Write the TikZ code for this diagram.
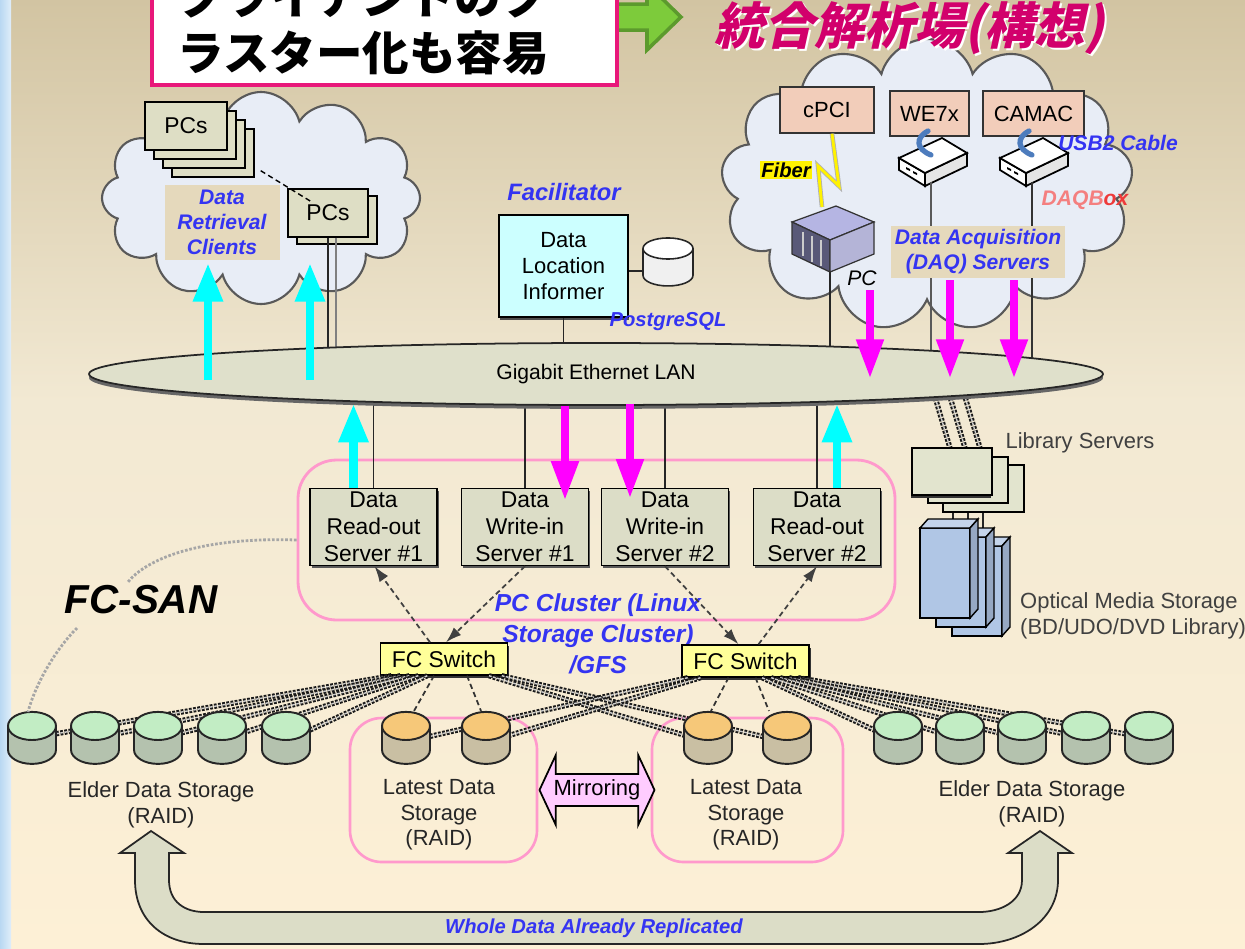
\documentclass[tikz,border=0pt]{standalone}
\usepackage{fontspec}
\setmainfont{Liberation Sans}
\newfontfamily\jpfont{Noto Sans CJK JP}
\usetikzlibrary{shapes.geometric, shapes.symbols, shapes.arrows, arrows.meta, shadows, calc}

\definecolor{bgtop}{HTML}{D2C4A2}
\definecolor{bgmid}{HTML}{F2E9D3}
\definecolor{bgbot}{HTML}{FDF0D6}
\definecolor{winblue}{HTML}{B9D8F2}
\definecolor{cloudfill}{HTML}{E8EDF6}
\definecolor{boxfill}{HTML}{DCDDC7}
\definecolor{lanfill}{HTML}{DFE0CB}
\definecolor{pcfill}{HTML}{DEDEC5}
\definecolor{tanbox}{HTML}{E5D9BC}
\definecolor{infofill}{HTML}{CCFFFF}
\definecolor{modfill}{HTML}{F2CDBA}
\definecolor{swfill}{HTML}{FFFF99}
\definecolor{optfill}{HTML}{B0C6E5}
\definecolor{libfill}{HTML}{E2E4CE}
\definecolor{lblblue}{HTML}{3434F2}
\definecolor{clpink}{HTML}{FF99CC}
\definecolor{boxpink}{HTML}{E8187A}
\definecolor{titlemag}{HTML}{D2006C}
\definecolor{goarrow}{HTML}{7DCB3B}
\definecolor{goedge}{HTML}{5C9A2D}
\definecolor{mirpink}{HTML}{FFCCFF}
\definecolor{elderend}{HTML}{C2EDC4}
\definecolor{elderbody}{HTML}{B4C2AE}
\definecolor{latestend}{HTML}{F6C879}
\definecolor{latestbody}{HTML}{C9BFA3}
\definecolor{daqred}{HTML}{EE3A3A}
\definecolor{cablblue}{HTML}{4D7CBD}
\definecolor{flowcyan}{RGB}{0,255,255}
\definecolor{flowmag}{RGB}{255,0,255}

% one pixel of the layout grid
\newdimen\pxu \pxu=0.02cm

\begin{document}
\begin{tikzpicture}[x=0.02cm, y=-0.02cm, font=\fontsize{12.5}{15}\selectfont,
    srv/.style={draw, fill=boxfill, line width=0.8pt, minimum width=127\pxu, minimum height=77\pxu,
      inner sep=0pt, align=center, font=\fontsize{13}{15.3}\selectfont,
      drop shadow={shadow xshift=1pt, shadow yshift=-1.6pt, opacity=1, fill=black!65}},
    sw/.style={draw, fill=swfill, line width=0.8pt, minimum width=127\pxu, minimum height=32\pxu,
      inner sep=0pt, font=\fontsize{13}{15}\selectfont,
      drop shadow={shadow xshift=1pt, shadow yshift=-1.6pt, opacity=1, fill=black!80}},
    mod/.style={draw=black!80, fill=modfill, line width=0.8pt, minimum height=46\pxu, inner sep=0pt},
    pcbox/.style={draw, fill=pcfill, line width=0.8pt, minimum width=82\pxu, minimum height=48\pxu,
      inner sep=0pt, font=\fontsize{13}{15}\selectfont},
    lbl/.style={text=lblblue, font=\bfseries\itshape\fontsize{12}{14.2}\selectfont, align=center, inner sep=1pt},
    gtxt/.style={text=black!85, align=center, font=\fontsize{12.5}{14.5}\selectfont},
    disk/.style={cylinder, shape border rotate=90, aspect=2.4, draw=black!85, line width=1.1pt,
      minimum width=48\pxu, minimum height=52\pxu,
      cylinder uses custom fill, cylinder body fill=#1body, cylinder end fill=#1end},
    lnk/.style={draw=black!85, line width=0.9pt},
    uparr/.style={draw=flowcyan, line width=5pt, -{Triangle[width=16pt,length=22pt]}},
    dnarr/.style={draw=flowmag, line width=4pt, -{Triangle[width=15pt,length=22pt]}},
    sanarr/.style={densely dashed, draw=black!75, line width=1pt, -{Latex[length=9pt,width=6pt]}},
    fcl/.style={draw=black!90, dash pattern=on 1.6pt off 0.8pt, line width=1.1pt, double=white!60!gray, double distance=0.8pt},
    fcthin/.style={draw=black!80, densely dashed, line width=1pt},
    cloudy/.style={cloud, cloud ignores aspect, draw=black!65, line width=1.2pt, fill=cloudfill, inner sep=0pt}]

  \useasboundingbox (0,0) rectangle (1245,948);
  \clip (0,0) rectangle (1245,948);

  % backdrop
  \shade[top color=bgtop, bottom color=bgmid] (0,0) rectangle (1245,402);
  \shade[top color=bgmid, bottom color=bgbot] (0,400) rectangle (1245,948);
  \shade[left color=winblue, right color=winblue!45!white] (0,0) rectangle (11,948);
  \coordinate (lanc) at (596,374);

  % clouds
  \node[cloudy, cloud puffs=12, minimum width=318\pxu, minimum height=212\pxu] (cldL) at (261,198) {};
  \node[cloudy, cloud puffs=13, minimum width=412\pxu, minimum height=292\pxu] (cldR) at (927,185) {};

  % heading
  \filldraw[fill=goarrow, draw=goedge, line width=2pt]
    (590,4) -- (647,4) -- (647,-16) -- (681,17) -- (647,50) -- (647,30) -- (590,30) -- cycle;
  \node[draw=boxpink, line width=2.4pt, fill=white, minimum width=465\pxu, minimum height=96\pxu] (note) at (384.5,37) {};
  \node[anchor=west, align=left, inner sep=0pt, font=\jpfont\bfseries\fontsize{26.5}{32}\selectfont]
    (notetxt) at (177,25) {クライアントのク\\ラスター化も容易};
  \node[xslant=0.22, inner sep=0pt, text=white, font=\jpfont\bfseries\fontsize{28.5}{32}\selectfont] (titlebg) at (915,30) {統合解析場(構想)};
  \node[xslant=0.22, inner sep=0pt, text=titlemag, font=\jpfont\bfseries\fontsize{28.5}{32}\selectfont] (title) at (913,28) {統合解析場(構想)};

  % retrieval clients
  \foreach \d in {27,18,9}
    \draw[fill=pcfill, line width=0.8pt] (145+\d,102+\d) rectangle ++(82,48);
  \node[pcbox] (pcsA) at (186,126) {PCs};
  \draw[fill=pcfill, line width=0.8pt] (297,196) rectangle ++(80,48);
  \node[pcbox, minimum width=80\pxu] (pcsB) at (328,213) {PCs};
  \draw[densely dashed, line width=0.8pt] ([shift={(33,20)}]pcsA.south east) -- ([shift={(25,14)}]pcsB.north west);
  \path ([xshift=8\pxu]pcsB.south) coordinate (pcsB2);
  \draw[lnk] (pcsB.south) -- (pcsB.south |- lanc);
  \draw[draw=gray, line width=1.2pt] (pcsB2) -- (pcsB2 |- lanc);
  \node[lbl, fill=tanbox, minimum width=115\pxu, minimum height=75\pxu] (drc) at (222,222) {Data\\Retrieval\\Clients};

  % facilitator
  \node[lbl, font=\bfseries\itshape\fontsize{13.5}{15}\selectfont] (facl) at (564,192) {Facilitator};
  \node[draw, fill=infofill, line width=0.8pt, minimum width=129\pxu, minimum height=102\pxu, align=center,
    font=\fontsize{12.5}{14.7}\selectfont,
    drop shadow={shadow xshift=0.5pt, shadow yshift=-1.6pt, opacity=1, fill=black!70}] (dli) at (563.5,266) {Data\\Location\\Informer};
  \node[cylinder, shape border rotate=90, aspect=1.8, draw=black!85, line width=0.9pt, minimum width=50\pxu,
    minimum height=48\pxu, cylinder uses custom fill, cylinder body fill=gray!12, cylinder end fill=white] (pg) at (668,271) {};
  \draw[lnk] (pg.west -| dli.east) -- (pg.west);
  \draw[lnk] (dli.south) -- (dli.south |- lanc);
  \node[lbl, font=\bfseries\itshape\fontsize{11.5}{13}\selectfont] (pglbl) at (668,322) {PostgreSQL};

  % acquisition side
  \node[mod, minimum width=94\pxu] (cpci) at (827,110) {cPCI};
  \node[mod, minimum width=79\pxu, minimum height=45\pxu] (we7x) at (929.5,113.5) {WE7x};
  \node[mod, minimum width=101\pxu, minimum height=45\pxu] (camac) at (1033.5,113.5) {CAMAC};
  \foreach \dx/\nm in {0/daqA, 101/daqB} {
    \begin{scope}[shift={(\dx,0)}]
      \draw[fill=white, line width=1pt] (899,158) -- (925,173) -- (925,186) -- (899,170) -- cycle;
      \draw[fill=white!90!black, line width=1pt] (925,173) -- (967,153) -- (967,166) -- (925,186) -- cycle;
      \draw[fill=white, line width=1pt] (899,158) -- (942,138) -- (967,153) -- (925,173) -- cycle;
      \fill (906,167) -- (910,169) -- (910,171) -- (906,169) -- cycle;
      \fill (913,171) -- (917,173) -- (917,175) -- (913,173) -- cycle;
      \draw[cablblue, line width=3pt, line cap=round] (931,155) .. controls (916,149) and (915,138) .. (928,131);
      \coordinate (\nm) at (931,182);
    \end{scope}
  }
  % rack PC
  \filldraw[fill=gray!55!blue!40!white, draw=black!80, line width=0.7pt] (792,222) -- (836,206) -- (874,222) -- (830,240) -- cycle;
  \filldraw[fill=black!60!blue!30!gray, draw=black!80, line width=0.7pt] (792,222) -- (830,240) -- (830,272) -- (792,254) -- cycle;
  \filldraw[fill=gray!70!blue!45!white, draw=black!80, line width=0.7pt] (830,240) -- (874,222) -- (874,254) -- (830,272) -- cycle;
  \draw[white!80!black, line width=0.8pt] (803,232) -- (803,256) (812,236) -- (812,262) (821,240) -- (821,266);
  \coordinate (pcsrv) at (830,272);
  \draw[draw=gray!60, double=yellow, double distance=1.6pt, line width=0.5pt, line join=miter]
    ([xshift=5\pxu]cpci.south) -- (839,186) -- (818,166) -- (822,207);
  \node[fill=yellow, inner sep=1pt, font=\bfseries\itshape\fontsize{11.5}{13}\selectfont] (fib) at (786,170) {Fiber};
  \draw[lnk] (pcsrv) -- (pcsrv |- lanc);
  \draw[draw=gray!70!black, line width=0.8pt] (daqA) -- (daqA |- lanc);
  \draw[draw=black!80, line width=0.8pt] (daqB) -- (daqB |- lanc);
  \node[font=\itshape\fontsize{12}{14}\selectfont] (pclbl) at (862,278) {PC};
  \node[lbl, fill=tanbox, inner sep=2pt] (daqlbl) at (978,252) {Data Acquisition\\(DAQ) Servers};
  \node[lbl] (usb) at (1118,143) {USB2 Cable};
  \node[font=\bfseries\itshape\fontsize{12}{14}\selectfont] (daqbox) at (1085,200) {\textcolor{daqred!65!white}{DAQB}\textcolor{daqred}{ox}};

  % storage servers
  \node[draw=clpink, line width=1.6pt, rounded corners=22pt, minimum width=597\pxu, minimum height=160\pxu] (cluster) at (596.5,540) {};
  \node[srv] (ro1) at (373.5,527) {Data\\Read-out\\Server \#1};
  \node[srv] (wi1) at (525,527) {Data\\Write-in\\Server \#1};
  \node[srv] (wi2) at (665,527) {Data\\Write-in\\Server \#2};
  \node[srv] (ro2) at (817,527) {Data\\Read-out\\Server \#2};
  \foreach \s in {ro1,wi1,wi2,ro2}
    \draw[lnk] (\s.north) -- (\s.north |- lanc);

  % library
  \foreach \dx in {0,15,30}
    \draw[fcl] (933+\dx,390) -- (950+\dx,448);
  \foreach \dx in {0,15,30}
    \draw[lnk] (953+\dx,495) -- (953+\dx,530);
  \draw[fill=libfill, line width=0.8pt] (943,465) rectangle (1024,512);
  \draw[fill=libfill, line width=0.8pt] (928,457) rectangle (1008,503);
  \node[draw, fill=libfill, line width=0.8pt, minimum width=80\pxu, minimum height=47\pxu,
    drop shadow={shadow xshift=-0.5pt, shadow yshift=-1.5pt, opacity=1, fill=black!80}] (lib) at (952,471.5) {};
  \foreach \i in {2,1,0} {
    \begin{scope}[shift={(16*\i,9*\i)}]
      \draw[fill=optfill, line width=0.8pt] (920,528) rectangle (970,618);
      \draw[fill=optfill!75!white, line width=0.8pt] (920,528) -- (928,519) -- (978,519) -- (970,528) -- cycle;
      \draw[fill=optfill!85!black, line width=0.8pt] (970,528) -- (978,519) -- (978,609) -- (970,618) -- cycle;
    \end{scope}
  }
  \node[gtxt, text=black!75] (liblbl) at (1080,443) {Library Servers};
  \node[gtxt, text=black!75, anchor=west, align=left] (optlbl) at (1014,616) {Optical Media Storage\\(BD/UDO/DVD Library)};

  % LAN
  \node[ellipse, draw=black!85, line width=1pt, fill=lanfill, minimum width=1014\pxu, minimum height=62\pxu,
    font=\fontsize{12}{14}\selectfont,
    drop shadow={shadow xshift=0pt, shadow yshift=-2.2pt, opacity=1, fill=black!60}] (lan) at (lanc) {Gigabit Ethernet LAN};

  % data flow
  \draw[uparr] (208,380) -- (208,263);
  \draw[uparr] (310,380) -- (310,263);
  \draw[dnarr] (870,290) -- (870,378);
  \draw[dnarr] (950,280) -- (950,378);
  \draw[dnarr] (1014,280) -- (1014,378);
  \draw[uparr] ([xshift=-20\pxu]ro1.north) -- ++(0,-84);
  \draw[uparr] ([xshift=20\pxu]ro2.north) -- ++(0,-84);
  \draw[dnarr] ($(wi1.north)+(40,-82)$) -- ($(wi1.north)+(40,12)$);
  \draw[dnarr] ($(wi2.north)+(-35,-84)$) -- ($(wi2.north)+(-35,10)$);

  \node[lbl, font=\bfseries\itshape\fontsize{14}{17.6}\selectfont] (cllbl) at (598,634) {PC Cluster (Linux\\Storage Cluster)\\/GFS};

  % SAN
  \node[sw] (swL) at (444,659) {FC Switch};
  \node[sw] (swR) at (745.5,661) {FC Switch};
  \draw[sanarr] ([xshift=-14\pxu]swL.north) -- ([xshift=1\pxu]ro1.south);
  \draw[sanarr] (wi1.south) -- ([xshift=2\pxu]swL.north);
  \draw[sanarr] (wi2.south) -- ([xshift=-7\pxu]swR.north);
  \draw[sanarr] ([xshift=13\pxu]swR.north) -- (ro2.south);

  \node[draw=clpink, line width=1.5pt, rounded corners=18pt, minimum width=187\pxu, minimum height=144\pxu] (latL) at (443.5,790) {};
  \node[draw=clpink, line width=1.5pt, rounded corners=18pt, minimum width=191\pxu, minimum height=144\pxu] (latR) at (747.5,790) {};

  % disk ports, links first so the disks sit on top
  \path (43,736) coordinate (eL1) (106,736) coordinate (eL2) (169,736) coordinate (eL3)
        (233,736) coordinate (eL4) (297,736) coordinate (eL5);
  \path (887,736) coordinate (eR1) (949,736) coordinate (eR2) (1011,736) coordinate (eR3)
        (1075,736) coordinate (eR4) (1138,736) coordinate (eR5);
  \foreach \n [count=\i] in {eL1,eL2,eL3,eL4,eL5}
    \draw[fcl] ($(swL.south west)!{0.02+0.07*\i}!(swL.south east)$) -- (\n);
  \foreach \n [count=\i] in {eR5,eR4,eR3,eR2,eR1}
    \draw[fcl] ($(swR.south east)!{0.02+0.07*\i}!(swR.south west)$) -- (\n);
  \draw[fcl] ($(swL.south west)!0.85!(swL.south east)$) -- (700,740);
  \draw[fcl] ($(swL.south west)!0.95!(swL.south east)$) -- (778,740);
  \draw[fcl] ($(swR.south east)!0.85!(swR.south west)$) -- (494,740);
  \draw[fcl] ($(swR.south east)!0.95!(swR.south west)$) -- (414,740);

  \foreach \n/\x in {dL1/32, dL2/95, dL3/158, dL4/222, dL5/286, dR1/898, dR2/960, dR3/1022, dR4/1086, dR5/1149}
    \node[disk=elder] (\n) at (\x,750) {};
  \foreach \n/\x in {lL1/406, lL2/486, lR1/708, lR2/787}
    \node[disk=latest] (\n) at (\x,750) {};

  \draw[fcthin] ([xshift=-10\pxu]swL.south) -- ([xshift=8\pxu]lL1.north);
  \draw[fcthin] ([xshift=23\pxu]swL.south) -- ([xshift=-5\pxu]lL2.north);
  \draw[fcthin] ([xshift=-17\pxu]swR.south) -- ([xshift=3\pxu]lR1.north);
  \draw[fcthin] ([xshift=10\pxu]swR.south) -- ([xshift=-18\pxu]lR2.north);

  \node[gtxt] (eLlbl) at (161,805) {Elder Data Storage\\(RAID)};
  \node[gtxt] (eRlbl) at (1032,804) {Elder Data Storage\\(RAID)};
  \node[gtxt] (lLlbl) at (439,815) {Latest Data\\Storage\\(RAID)};
  \node[gtxt] (lRlbl) at (746,815) {Latest Data\\Storage\\(RAID)};

  \node[double arrow, draw, line width=1pt, fill=mirpink, double arrow head extend=10pt, double arrow tip angle=130,
    minimum width=70\pxu, minimum height=115\pxu, inner sep=2pt, font=\fontsize{12.5}{14}\selectfont] (mir) at (597,790) {Mirroring};

  % replication band
  \draw[fill=boxfill, draw=black!85, line width=1pt]
    (135,853) -- (120,853) -- (151,831) -- (184,853) -- (169,853) -- (169,880)
    .. controls (169,902) and (185,912) .. (204,912) -- (979,912)
    .. controls (1000,912) and (1022,902) .. (1022,880) -- (1022,853) -- (1008,853) -- (1040,831)
    -- (1072,853) -- (1058,853) -- (1058,880)
    .. controls (1058,920) and (1020,944) .. (979,944) -- (204,944)
    .. controls (163,944) and (135,920) .. (135,880) -- cycle;
  \node[lbl, font=\bfseries\itshape\fontsize{11.5}{13}\selectfont] (repl) at (594,928) {Whole Data Already Replicated};

  % FC-SAN tag
  \draw[gray!70, line width=1.6pt, dash pattern=on 1.5pt off 1pt] (cluster.west) .. controls (210,537) and (150,555) .. (128,582);
  \draw[gray!70, line width=1.6pt, dash pattern=on 1.5pt off 1pt] (77,628) .. controls (55,650) and (35,685) .. (28,712);
  \node[font=\bfseries\itshape\fontsize{23}{26}\selectfont] (san) at (141,600) {FC-SAN};
\end{tikzpicture}
\end{document}
